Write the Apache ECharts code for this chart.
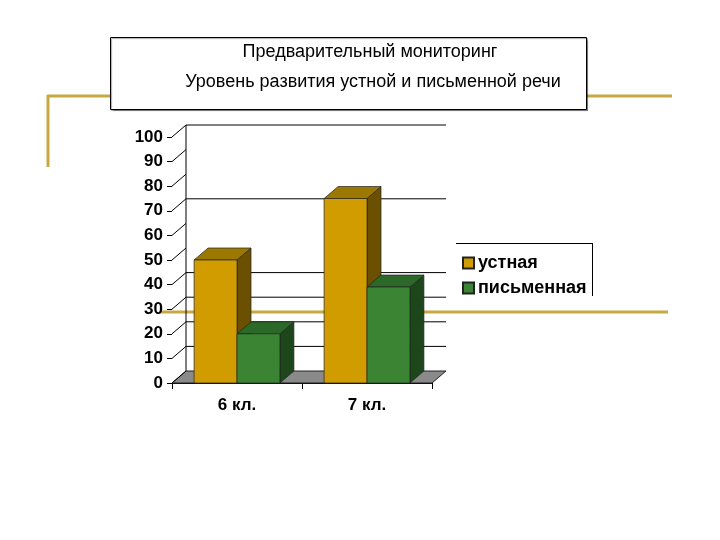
<!DOCTYPE html>
<html>
<head>
<meta charset="utf-8">
<script src="https://cdn.jsdelivr.net/npm/echarts@6/dist/echarts.min.js"></script>
<style>html,body{margin:0;padding:0;background:#fff}#c{width:720px;height:540px}</style>
</head>
<body>
<div id="c"></div>
<script>
const categories = ['6 кл.', '7 кл.'];
const seriesNames = ['устная', 'письменная'];
const oral = [50, 75];
const written = [20, 39];
const yTickValues = [0, 10, 20, 30, 40, 50, 60, 70, 80, 90, 100];
const backGridValues = [10, 20, 30, 40, 70, 100];
const titleLines = ['Предварительный мониторинг', 'Уровень развития устной и письменной речи'];

const DX = 14, DY = -12;
const FONT = '"Liberation Sans", Arial, sans-serif';
const GOLD = '#C8A840';

const palettes = [
  {front: '#D09C00', top: '#9C7800', side: '#6A5000'},
  {front: '#3A8434', top: '#2C6828', side: '#1E461B'}
];

function barRenderer(pos) {
  const p = palettes[pos];
  return function (params, api) {
    const c = api.value(0), v = api.value(1);
    const base = api.coord([c, 0]);
    const top = api.coord([c, v]);
    const cw = api.size([1, 0])[0];
    const bw = cw * 0.33;
    const x0 = base[0] - bw + pos * bw;
    const x1 = x0 + bw;
    const ty = top[1], by = base[1];
    const stroke = {stroke: '#222', lineWidth: 0.7};
    return {
      type: 'group',
      children: [
        {type: 'polygon', shape: {points: [[x1, ty], [x1 + DX, ty + DY], [x1 + DX, by + DY], [x1, by]]},
         style: Object.assign({fill: p.side}, stroke)},
        {type: 'polygon', shape: {points: [[x0, ty], [x0 + DX, ty + DY], [x1 + DX, ty + DY], [x1, ty]]},
         style: Object.assign({fill: p.top}, stroke)},
        {type: 'rect', shape: {x: x0, y: ty, width: bw, height: by - ty},
         style: Object.assign({fill: p.front}, stroke)}
      ]
    };
  };
}

function wallRenderer(params, api) {
  const cs = params.coordSys;
  const y0 = api.coord([0, 0])[1];
  const y100 = api.coord([0, 100])[1];
  const xl = cs.x, xr = cs.x + cs.width;
  const children = [];
  children.push({type: 'polygon', shape: {points: [[xl, y0], [xr, y0], [xr + DX, y0 + DY], [xl + DX, y0 + DY]]},
    style: {fill: '#8A8A8A', stroke: '#222', lineWidth: 1}});
  children.push({type: 'line', shape: {x1: xl + DX, y1: y0 + DY, x2: xl + DX, y2: y100 + DY},
    style: {stroke: '#000', lineWidth: 1}});
  yTickValues.forEach(function (v) {
    const y = api.coord([0, v])[1];
    children.push({type: 'line', shape: {x1: xl, y1: y, x2: xl + DX, y2: y + DY},
      style: {stroke: '#000', lineWidth: 1}});
  });
  backGridValues.forEach(function (v) {
    const y = api.coord([0, v])[1] + DY;
    children.push({type: 'line', shape: {x1: xl + DX, y1: y, x2: xr + DX, y2: y},
      style: {stroke: '#000', lineWidth: 1}});
  });
  return {type: 'group', children: children};
}

const chart = echarts.init(document.getElementById('c'), null, {renderer: 'canvas'});
chart.setOption({
  backgroundColor: '#fff',
  animation: false,
  title: [
    {text: titleLines[0], left: 365, top: 38, textAlign: 'center',
     textStyle: {fontFamily: FONT, fontSize: 18, fontWeight: 'normal', color: '#000'}, z: 10},
    {text: titleLines[1], left: 368, top: 68, textAlign: 'center',
     textStyle: {fontFamily: FONT, fontSize: 18, fontWeight: 'normal', color: '#000'}, z: 10}
  ],
  graphic: [
    {type: 'line', z: 0, shape: {x1: 47, y1: 96, x2: 672, y2: 96}, style: {stroke: GOLD, lineWidth: 3}},
    {type: 'line', z: 0, shape: {x1: 48, y1: 95, x2: 48, y2: 167}, style: {stroke: GOLD, lineWidth: 3}},
    {type: 'line', z: 0, shape: {x1: 160, y1: 312, x2: 668, y2: 312}, style: {stroke: GOLD, lineWidth: 3}},
    {type: 'rect', z: 1, shape: {x: 110.5, y: 37.5, width: 476, height: 72},
     style: {fill: '#fff', stroke: '#000', lineWidth: 1, shadowColor: 'rgba(0,0,0,0.35)', shadowOffsetX: 1, shadowOffsetY: 1, shadowBlur: 1}},
    {type: 'line', z: 5, shape: {x1: 456, y1: 243.5, x2: 592, y2: 243.5}, style: {stroke: '#000', lineWidth: 1}},
    {type: 'line', z: 5, shape: {x1: 592.5, y1: 243, x2: 592.5, y2: 296}, style: {stroke: '#000', lineWidth: 1}}
  ],
  legend: {
    data: seriesNames,
    orient: 'vertical',
    left: 457, top: 249,
    itemWidth: 11, itemHeight: 11, itemGap: 7,
    icon: 'rect',
    textStyle: {fontFamily: FONT, fontSize: 18, fontWeight: 'bold', color: '#000', padding: [0, 0, 0, -1]},
    selectedMode: false
  },
  grid: {left: 172, top: 137, width: 260, height: 246, containLabel: false},
  xAxis: {
    type: 'category',
    data: categories,
    axisLine: {show: true, lineStyle: {color: '#000', width: 1}},
    axisTick: {show: true, length: 6, lineStyle: {color: '#000'}},
    axisLabel: {fontFamily: FONT, fontSize: 17, fontWeight: 'bold', color: '#000', margin: 14},
    splitLine: {show: false}
  },
  yAxis: {
    type: 'value',
    min: 0, max: 100, interval: 10,
    axisLine: {show: false},
    axisTick: {show: true, length: 5, lineStyle: {color: '#000'}},
    axisLabel: {fontFamily: FONT, fontSize: 17, fontWeight: 'bold', color: '#000', margin: 9},
    splitLine: {show: false}
  },
  series: [
    {type: 'custom', name: 'wall', renderItem: wallRenderer, data: [[0, 0]], z: 1, silent: true},
    {type: 'custom', name: seriesNames[0], renderItem: barRenderer(0),
     data: categories.map(function (c, i) { return [i, oral[i]]; }),
     itemStyle: {color: palettes[0].front, borderColor: '#222', borderWidth: 1}, z: 3},
    {type: 'custom', name: seriesNames[1], renderItem: barRenderer(1),
     data: categories.map(function (c, i) { return [i, written[i]]; }),
     itemStyle: {color: palettes[1].front, borderColor: '#222', borderWidth: 1}, z: 3}
  ]
});
</script>
</body>
</html>
